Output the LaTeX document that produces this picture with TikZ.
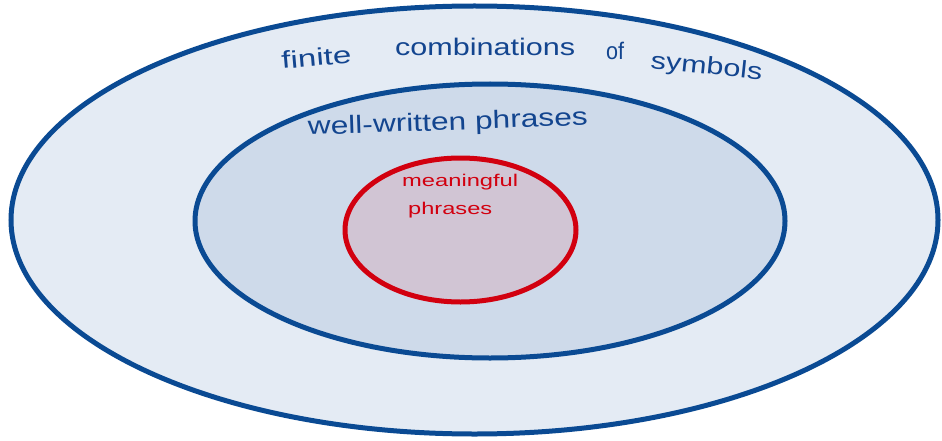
\documentclass[tikz,border=0pt]{standalone}
\usepackage{fontspec}
\setmainfont{Liberation Sans}
\usepackage{graphicx}
\usetikzlibrary{shapes.geometric}
\definecolor{lineblue}{HTML}{0A4A93}
\definecolor{textblue}{HTML}{13458F}
\definecolor{outerfill}{HTML}{E4EBF4}
\definecolor{midfill}{HTML}{CEDAEA}
\definecolor{innerfill}{HTML}{D1C5D4}
\definecolor{linered}{HTML}{D2000F}
\newcommand{\fitw}[2]{\resizebox{#1}{\height}{#2}}
\tikzset{
  setellipse/.style={ellipse, inner sep=0pt, outer sep=0pt, line width=5pt},
  bluelabel/.style={anchor=base west, inner sep=0pt, text=textblue, font=\fontsize{24}{28}\selectfont},
  redlabel/.style={anchor=base west, inner sep=0pt, text=linered, font=\fontsize{17}{20}\selectfont}
}
\begin{document}
\begin{tikzpicture}[x=1pt,y=1pt]
\useasboundingbox (0,0) rectangle (942,440);
\node[setellipse, draw=lineblue, fill=outerfill, minimum width=927pt, minimum height=428pt] (outer) at (474.5,220) {};
\node[setellipse, draw=lineblue, fill=midfill, minimum width=590pt, minimum height=274pt] (middle) at (490,219) {};
\node[setellipse, draw=linered, fill=innerfill, minimum width=231pt, minimum height=144pt] (inner) at (460.5,210) {};
% outer label
\node[bluelabel, rotate=5] (w1) at (282,371) {\fitw{70pt}{finite}};
\node[bluelabel] (w2) at (395,384) {\fitw{180pt}{combinations}};
\node[bluelabel] (w3) at (606,380) {\fitw{18pt}{of}};
\node[bluelabel, rotate=-6] (w4) at (650,372) {\fitw{112pt}{symbols}};
% middle label
\node[bluelabel, font=\fontsize{25}{30}\selectfont, rotate=2] (wl) at (308,305) {\fitw{280pt}{well-written phrases}};
% inner label
\node[redlabel] (m1) at (402,254) {\fitw{116pt}{meaningful}};
\node[redlabel] (m2) at (408,226) {\fitw{84pt}{phrases}};
\end{tikzpicture}
\end{document}
